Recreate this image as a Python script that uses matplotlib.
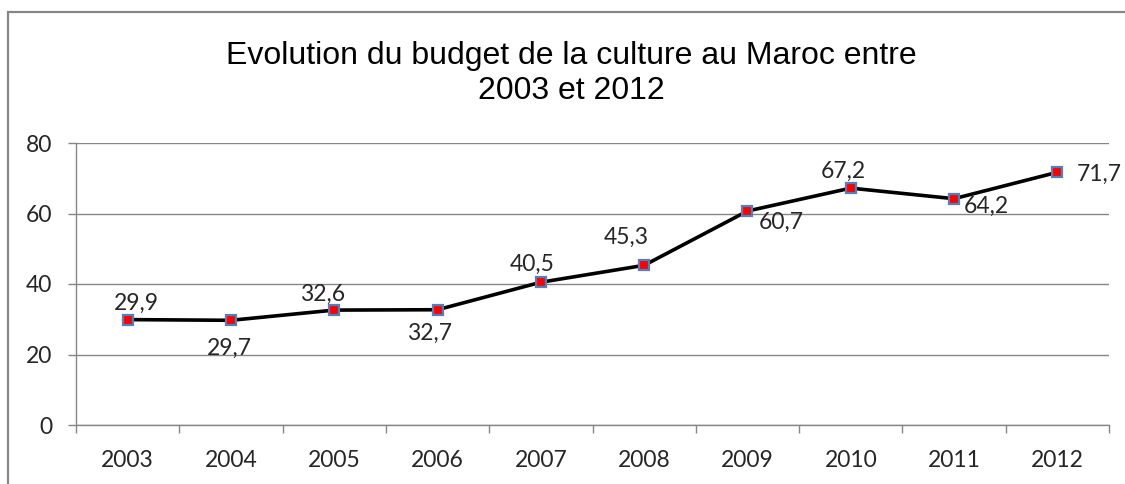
import matplotlib
matplotlib.use("Agg")
import matplotlib.pyplot as plt
from matplotlib.patches import Rectangle

# Budget de la culture par annee
years = ["2003", "2004", "2005", "2006", "2007", "2008", "2009", "2010", "2011", "2012"]
budget = [29.9, 29.7, 32.6, 32.7, 40.5, 45.3, 60.7, 67.2, 64.2, 71.7]
y_ticks = [0, 20, 40, 60, 80]

# where each data label sits relative to its point (pixels)
label_offsets = [(9, 16), (-2, -28), (-12, 16), (-8, -24), (-9, 18),
                 (-18, 28), (34, -11), (-7, 17), (32, -8), (42, -2)]

grey = "#868686"
label_font = "Lato"
fs = 16.5

fig = plt.figure(figsize=(11.25, 4.84), dpi=100)
ax = fig.add_axes([76 / 1125, 59 / 484, 1033 / 1125, 282 / 484])

# chart frame (cut off on the right and bottom like the original)
frame = Rectangle((8 / 1125, -0.2), 1.2, (484 - 12) / 484 + 0.2, transform=fig.transFigure,
                  fill=False, edgecolor=grey, linewidth=1.6, clip_on=False)
fig.patches.append(frame)

x = list(range(len(years)))
ax.plot(x, budget, color="black", linewidth=2.6, zorder=3)
ax.plot(x, budget, linestyle="none", marker="s", markersize=7,
        markerfacecolor="#ff0000", markeredgecolor="#4f81bd", markeredgewidth=1.6, zorder=4)

for xi, v, (dx, dy) in zip(x, budget, label_offsets):
    ax.annotate(f"{v:.1f}".replace(".", ","), (xi, v), xytext=(dx * 0.72, dy * 0.72),
                textcoords="offset points", ha="center", va="center",
                fontsize=fs, family=label_font, color="#262626")

ax.set_xlim(-0.5, len(years) - 0.5)
ax.set_ylim(0, 80)
ax.set_yticks(y_ticks)
ax.set_yticklabels([str(t) for t in y_ticks], family=label_font, fontsize=fs, color="#262626")
ax.yaxis.grid(True, color=grey, linewidth=1.0)
ax.set_axisbelow(True)

# category ticks between the years, labels in the middle
ax.set_xticks([i - 0.5 for i in range(len(years) + 1)])
ax.set_xticklabels([])
ax.set_xticks(x, minor=True)
ax.set_xticklabels(years, minor=True, family=label_font, fontsize=fs, color="#262626")
ax.tick_params(axis="x", which="major", length=6, color=grey, width=1)
ax.tick_params(axis="x", which="minor", length=0, pad=18)
ax.tick_params(axis="y", length=6, color=grey, width=1, pad=11)

for side in ["top", "right"]:
    ax.spines[side].set_visible(False)
for side in ["left", "bottom"]:
    ax.spines[side].set_color(grey)
    ax.spines[side].set_linewidth(1.0)

fig.text(571 / 1125, 1 - 99 / 484, "Evolution du budget de la culture au Maroc entre\n2003 et 2012",
         ha="center", va="baseline", fontsize=23, family="Liberation Sans",
         linespacing=1.22, color="black")

fig.savefig("out.png", dpi=100)
